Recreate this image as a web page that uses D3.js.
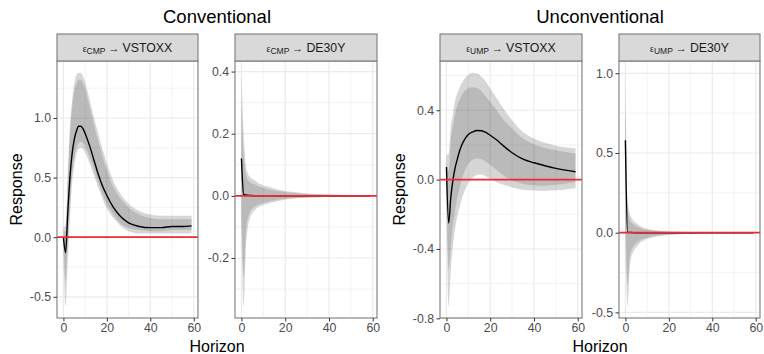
<!DOCTYPE html>
<html>
<head>
<meta charset="utf-8">
<script src="https://cdn.jsdelivr.net/npm/d3@7"></script>
<style>
  body { margin: 0; background: #fff; }
  svg { display: block; font-family: "Liberation Sans", Arial, sans-serif; }
</style>
</head>
<body>
<div id="chart"></div>
<script>
const horizons = [0, 1, 2, 3, 4, 5, 6, 7, 8, 9, 10, 12, 14, 16, 18, 20, 23, 26, 30, 35, 40, 45, 50, 55, 59];

// CMP -> VSTOXX
const cmpVstoxxMedian = [0.00, -0.13, 0.20, 0.50, 0.70, 0.82, 0.89, 0.93, 0.93, 0.91, 0.87, 0.77, 0.65, 0.53, 0.43, 0.35, 0.25, 0.18, 0.12, 0.09, 0.08, 0.08, 0.09, 0.09, 0.095];
const cmpVstoxxHi68 = [0.05, 0.05, 0.45, 0.85, 1.08, 1.22, 1.29, 1.32, 1.32, 1.29, 1.24, 1.10, 0.95, 0.81, 0.68, 0.56, 0.42, 0.33, 0.25, 0.19, 0.16, 0.15, 0.15, 0.15, 0.15];
const cmpVstoxxHi90 = [0.08, 0.10, 0.55, 0.92, 1.15, 1.29, 1.36, 1.38, 1.38, 1.35, 1.30, 1.16, 1.01, 0.87, 0.74, 0.62, 0.47, 0.37, 0.28, 0.22, 0.19, 0.18, 0.18, 0.18, 0.18];
const cmpVstoxxLo68 = [-0.05, -0.35, -0.05, 0.25, 0.52, 0.66, 0.75, 0.79, 0.80, 0.79, 0.76, 0.67, 0.57, 0.46, 0.36, 0.28, 0.19, 0.12, 0.08, 0.06, 0.05, 0.05, 0.06, 0.06, 0.06];
const cmpVstoxxLo90 = [-0.15, -0.58, -0.20, 0.15, 0.45, 0.60, 0.70, 0.74, 0.75, 0.74, 0.71, 0.62, 0.52, 0.42, 0.32, 0.24, 0.16, 0.10, 0.05, 0.03, 0.03, 0.03, 0.03, 0.03, 0.03];

// CMP -> DE30Y
const cmpBundMedian = [0.12, 0.005, 0.003, 0.002, 0.001, 0.001, 0, 0, 0, 0, 0, 0, 0, 0, 0, 0, 0, 0, 0, 0, 0, 0, 0, 0, 0];
const cmpBundHi68 = [0.30, 0.14, 0.07, 0.05, 0.045, 0.04, 0.037, 0.034, 0.03, 0.028, 0.026, 0.022, 0.019, 0.016, 0.014, 0.012, 0.01, 0.008, 0.006, 0.005, 0.004, 0.003, 0.002, 0.002, 0.002];
const cmpBundHi90 = [0.40, 0.20, 0.10, 0.07, 0.06, 0.055, 0.05, 0.045, 0.04, 0.037, 0.034, 0.03, 0.026, 0.022, 0.019, 0.016, 0.013, 0.011, 0.008, 0.006, 0.005, 0.004, 0.003, 0.003, 0.003];
const cmpBundLo68 = [-0.05, -0.26, -0.12, -0.07, -0.05, -0.04, -0.035, -0.03, -0.027, -0.025, -0.022, -0.019, -0.016, -0.013, -0.011, -0.009, -0.007, -0.006, -0.005, -0.004, -0.003, -0.003, -0.002, -0.002, -0.002];
const cmpBundLo90 = [-0.10, -0.355, -0.17, -0.10, -0.07, -0.055, -0.047, -0.04, -0.036, -0.032, -0.029, -0.025, -0.021, -0.018, -0.015, -0.012, -0.01, -0.008, -0.006, -0.005, -0.004, -0.004, -0.003, -0.003, -0.003];

// UMP -> VSTOXX
const umpVstoxxMedian = [0.073, -0.25, -0.10, 0.00, 0.07, 0.12, 0.165, 0.20, 0.225, 0.245, 0.26, 0.275, 0.283, 0.282, 0.272, 0.256, 0.228, 0.195, 0.155, 0.118, 0.097, 0.08, 0.065, 0.053, 0.045];
const umpVstoxxHi68 = [0.10, 0.05, 0.227, 0.314, 0.381, 0.43, 0.462, 0.487, 0.506, 0.52, 0.528, 0.532, 0.528, 0.51, 0.48, 0.449, 0.40, 0.347, 0.295, 0.237, 0.204, 0.183, 0.169, 0.158, 0.15];
const umpVstoxxHi90 = [0.14, 0.15, 0.31, 0.38, 0.46, 0.50, 0.53, 0.555, 0.578, 0.593, 0.605, 0.616, 0.613, 0.593, 0.564, 0.526, 0.468, 0.41, 0.343, 0.275, 0.237, 0.212, 0.196, 0.185, 0.179];
const umpVstoxxLo68 = [-0.02, -0.52, -0.38, -0.26, -0.17, -0.10, -0.05, 0.0, 0.04, 0.07, 0.09, 0.115, 0.122, 0.118, 0.105, 0.085, 0.055, 0.025, -0.005, -0.025, -0.033, -0.035, -0.03, -0.022, -0.015];
const umpVstoxxLo90 = [-0.15, -0.73, -0.52, -0.38, -0.28, -0.21, -0.16, -0.11, -0.075, -0.045, -0.02, 0.01, 0.028, 0.03, 0.02, 0.005, -0.015, -0.03, -0.045, -0.058, -0.063, -0.065, -0.062, -0.055, -0.05];

// UMP -> DE30Y
const umpBundMedian = [0.58, 0.003, 0.002, 0.001, 0, 0, 0, 0, 0, 0, 0, 0, 0, 0, 0, 0, 0, 0, 0, 0, 0, 0, 0, 0, 0];
const umpBundHi68 = [0.85, 0.16, 0.08, 0.06, 0.05, 0.04, 0.035, 0.03, 0.025, 0.02, 0.018, 0.014, 0.011, 0.009, 0.008, 0.007, 0.005, 0.004, 0.003, 0.003, 0.002, 0.002, 0.002, 0.001, 0.001];
const umpBundHi90 = [1.0, 0.22, 0.12, 0.09, 0.07, 0.06, 0.05, 0.04, 0.035, 0.03, 0.025, 0.02, 0.016, 0.013, 0.011, 0.009, 0.007, 0.006, 0.005, 0.004, 0.003, 0.003, 0.002, 0.002, 0.002];
const umpBundLo68 = [0.10, -0.33, -0.15, -0.10, -0.08, -0.065, -0.055, -0.045, -0.04, -0.035, -0.03, -0.024, -0.019, -0.016, -0.013, -0.011, -0.009, -0.007, -0.005, -0.004, -0.003, -0.003, -0.002, -0.002, -0.002];
const umpBundLo90 = [-0.05, -0.46, -0.22, -0.14, -0.11, -0.09, -0.075, -0.06, -0.052, -0.045, -0.04, -0.032, -0.026, -0.021, -0.017, -0.014, -0.011, -0.009, -0.007, -0.005, -0.004, -0.003, -0.003, -0.002, -0.002];

// labels and ticks
const groupTitles = ['Conventional', 'Unconventional'];
const shockLabels = ['CMP', 'CMP', 'UMP', 'UMP'];
const targetLabels = ['VSTOXX', 'DE30Y', 'VSTOXX', 'DE30Y'];
const xTicks = [0, 20, 40, 60];
const yTicksList = [
  [-0.5, 0, 0.5, 1.0],
  [-0.2, 0, 0.2, 0.4],
  [-0.8, -0.4, 0, 0.4],
  [-0.5, 0, 0.5, 1.0]
];
const yDomains = [
  [-0.678, 1.478],
  [-0.393, 0.434],
  [-0.798, 0.684],
  [-0.535, 1.077]
];

const series = [
  { med: cmpVstoxxMedian, hi68: cmpVstoxxHi68, hi90: cmpVstoxxHi90, lo68: cmpVstoxxLo68, lo90: cmpVstoxxLo90 },
  { med: cmpBundMedian, hi68: cmpBundHi68, hi90: cmpBundHi90, lo68: cmpBundLo68, lo90: cmpBundLo90 },
  { med: umpVstoxxMedian, hi68: umpVstoxxHi68, hi90: umpVstoxxHi90, lo68: umpVstoxxLo68, lo90: umpVstoxxLo90 },
  { med: umpBundMedian, hi68: umpBundHi68, hi90: umpBundHi90, lo68: umpBundLo68, lo90: umpBundLo90 }
];

const width = 764;
const height = 354;
const panelX = [[57, 198], [235, 377], [440, 582], [619, 760]];
const stripTop = 34;
const panelTop = 61;
const panelBottom = 318;

const svg = d3
  .select('#chart')
  .append('svg')
  .attr('width', width)
  .attr('height', height);

const fmtY = d => d3.format('.1f')(d).replace('\u2212', '-');

series.forEach(function(s, i) {
  const x0 = panelX[i][0];
  const x1 = panelX[i][1];
  const x = d3.scaleLinear().domain([-2.95, 61.95]).range([x0, x1]);
  const y = d3.scaleLinear().domain(yDomains[i]).range([panelBottom, panelTop]);
  const rows = horizons.map((h, k) => ({
    h: h, med: s.med[k], hi68: s.hi68[k], hi90: s.hi90[k], lo68: s.lo68[k], lo90: s.lo90[k]
  }));

  const g = svg.append('g').attr('class', 'panel');

  // background + grid
  g.append('rect')
    .attr('x', x0).attr('y', panelTop)
    .attr('width', x1 - x0).attr('height', panelBottom - panelTop)
    .attr('fill', '#fff');

  const yt = yTicksList[i];
  const step = yt[1] - yt[0];
  const yMinor = [];
  for (let v = yt[0] - step / 2; v <= yDomains[i][1]; v += step) {
    if (v >= yDomains[i][0]) yMinor.push(v);
  }
  g.selectAll('.yminor').data(yMinor).enter().append('line')
    .attr('x1', x0).attr('x2', x1)
    .attr('y1', d => y(d)).attr('y2', d => y(d))
    .attr('stroke', '#ebebeb').attr('stroke-width', 0.6);
  g.selectAll('.xminor').data([10, 30, 50]).enter().append('line')
    .attr('y1', panelTop).attr('y2', panelBottom)
    .attr('x1', d => x(d)).attr('x2', d => x(d))
    .attr('stroke', '#ebebeb').attr('stroke-width', 0.6);
  g.selectAll('.ymajor').data(yt).enter().append('line')
    .attr('x1', x0).attr('x2', x1)
    .attr('y1', d => y(d)).attr('y2', d => y(d))
    .attr('stroke', '#ebebeb').attr('stroke-width', 1.2);
  g.selectAll('.xmajor').data(xTicks).enter().append('line')
    .attr('y1', panelTop).attr('y2', panelBottom)
    .attr('x1', d => x(d)).attr('x2', d => x(d))
    .attr('stroke', '#ebebeb').attr('stroke-width', 1.2);

  const clipId = 'clip' + i;
  svg.append('clipPath').attr('id', clipId)
    .append('rect')
    .attr('x', x0).attr('y', panelTop)
    .attr('width', x1 - x0).attr('height', panelBottom - panelTop);

  const plot = g.append('g').attr('clip-path', 'url(#' + clipId + ')');

  const band = (lo, hi) => d3.area()
    .curve(d3.curveMonotoneX)
    .x(d => x(d.h))
    .y0(d => y(d[lo]))
    .y1(d => y(d[hi]));

  plot.append('path').datum(rows)
    .attr('d', band('lo90', 'hi90'))
    .attr('fill', '#000').attr('fill-opacity', 0.16);
  plot.append('path').datum(rows)
    .attr('d', band('lo68', 'hi68'))
    .attr('fill', '#000').attr('fill-opacity', 0.13);

  plot.append('path').datum(rows)
    .attr('d', d3.line().curve(d3.curveMonotoneX).x(d => x(d.h)).y(d => y(d.med)))
    .attr('fill', 'none').attr('stroke', '#000').attr('stroke-width', 1.4);

  plot.append('line')
    .attr('x1', x0).attr('x2', x1)
    .attr('y1', y(0)).attr('y2', y(0))
    .attr('stroke', '#ee2b33').attr('stroke-width', 1.7);

  // panel border
  g.append('rect')
    .attr('x', x0).attr('y', panelTop)
    .attr('width', x1 - x0).attr('height', panelBottom - panelTop)
    .attr('fill', 'none').attr('stroke', '#7a7a7a').attr('stroke-width', 1.1);

  // strip
  g.append('rect')
    .attr('x', x0).attr('y', stripTop)
    .attr('width', x1 - x0).attr('height', panelTop - stripTop)
    .attr('fill', '#d9d9d9').attr('stroke', '#7a7a7a').attr('stroke-width', 1.1);
  const st = g.append('text')
    .attr('x', (x0 + x1) / 2).attr('y', 52)
    .attr('text-anchor', 'middle')
    .attr('fill', '#1a1a1a')
    .attr('font-size', 12.3);
  st.append('tspan').attr('font-size', 8.5).text('\u03b5');
  st.append('tspan').attr('font-size', 8.5).attr('dy', 1.5).text(shockLabels[i]);
  st.append('tspan').attr('font-size', 11).attr('dy', -1.5).text(' \u2192 ');
  st.append('tspan').text(targetLabels[i]);

  // axes
  const yAxis = g.append('g')
    .attr('transform', 'translate(' + x0 + ',0)')
    .call(d3.axisLeft(y).tickValues(yt).tickFormat(fmtY).tickSize(3.5).tickPadding(2.5));
  const xAxis = g.append('g')
    .attr('transform', 'translate(0,' + panelBottom + ')')
    .call(d3.axisBottom(x).tickValues(xTicks).tickFormat(d3.format('d')).tickSize(3.5).tickPadding(2));
  [yAxis, xAxis].forEach(function(a) {
    a.select('.domain').remove();
    a.selectAll('line').attr('stroke', '#333').attr('stroke-width', 1);
    a.selectAll('text')
      .attr('fill', '#4d4d4d')
      .attr('font-size', 12.3)
      .attr('font-family', '"Liberation Sans", Arial, sans-serif');
  });
});

// titles per group
[0, 1].forEach(function(j) {
  const left = panelX[j * 2][0];
  const right = panelX[j * 2 + 1][1];
  const cx = (left + right) / 2;
  svg.append('text')
    .attr('x', cx).attr('y', 23)
    .attr('text-anchor', 'middle')
    .attr('font-size', 18.5)
    .attr('fill', '#000')
    .text(groupTitles[j]);
  svg.append('text')
    .attr('x', cx).attr('y', 352)
    .attr('text-anchor', 'middle')
    .attr('font-size', 16)
    .attr('fill', '#000')
    .text('Horizon');
  svg.append('text')
    .attr('transform', 'translate(' + (left - 35) + ',' + (panelTop + panelBottom) / 2 + ') rotate(-90)')
    .attr('text-anchor', 'middle')
    .attr('font-size', 16)
    .attr('fill', '#000')
    .text('Response');
});
</script>
</body>
</html>
